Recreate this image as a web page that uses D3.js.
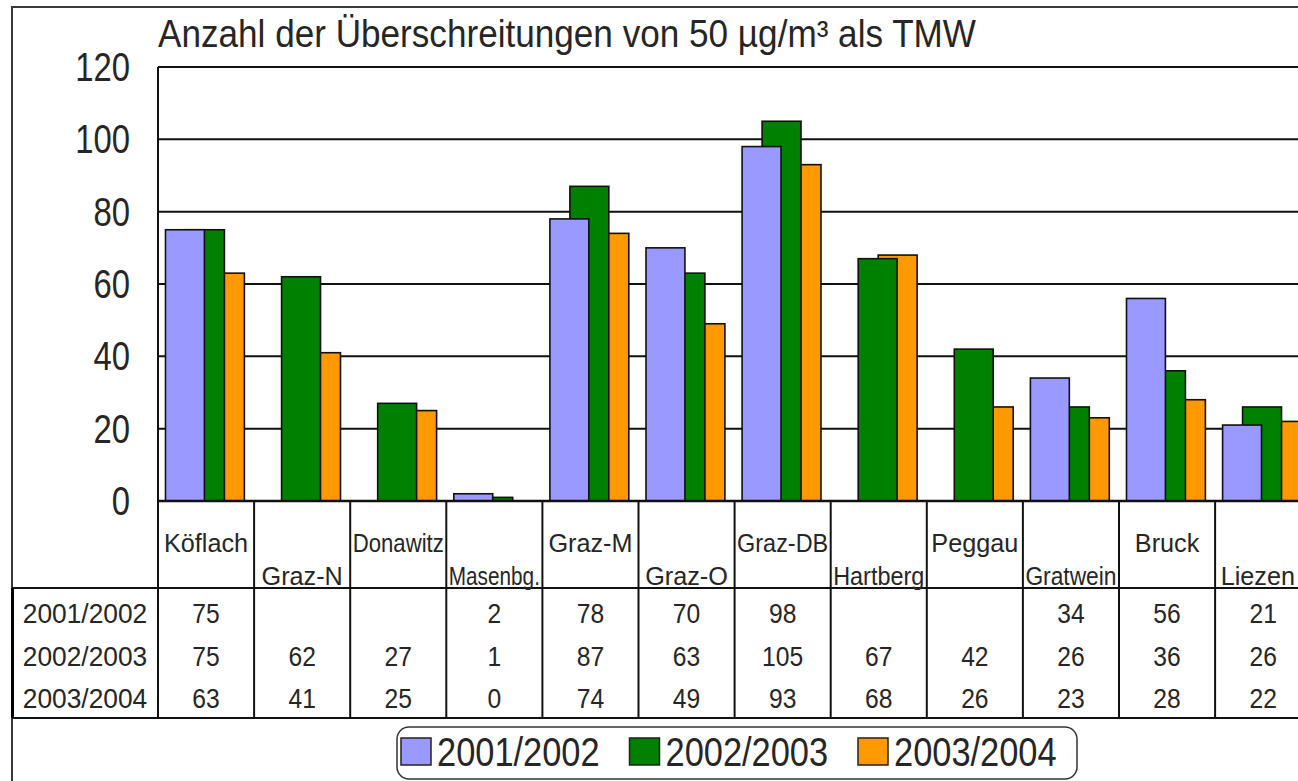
<!DOCTYPE html>
<html>
<head>
<meta charset="utf-8">
<script src="https://cdn.jsdelivr.net/npm/d3@7"></script>
<style>
  body { margin: 0; background: #fff; }
  text { font-family: "Liberation Sans", Arial, sans-serif; fill: #262626; }
</style>
</head>
<body>
<div id="chart"></div>
<script>
const categories = ["Köflach", "Graz-N", "Donawitz", "Masenbg.", "Graz-M", "Graz-O", "Graz-DB", "Hartberg", "Peggau", "Gratwein", "Bruck", "Liezen"];
const seriesNames = ["2001/2002", "2002/2003", "2003/2004"];
const values0102 = [75, null, null, 2, 78, 70, 98, null, null, 34, 56, 21];
const values0203 = [75, 62, 27, 1, 87, 63, 105, 67, 42, 26, 36, 26];
const values0304 = [63, 41, 25, 0, 74, 49, 93, 68, 26, 23, 28, 22];
const yTicks = [0, 20, 40, 60, 80, 100, 120];
const title = "Anzahl der Überschreitungen von 50 µg/m³ als TMW";

const seriesValues = [values0102, values0203, values0304];
const colors = ["#9999ff", "#008000", "#ff9900"];

const width = 1298, height = 781;
const plotLeft = 158, plotTop = 67, plotBottom = 501;
const bandW = 96.1;
const headerBottom = 588, tableBottom = 718;
const rowBase = [623, 665.5, 708];

const svg = d3.select('#chart').append('svg')
    .attr('width', width)
    .attr('height', height);

const x = d3.scaleBand()
    .domain(categories)
    .range([plotLeft, plotLeft + categories.length * bandW]);

const y = d3.scaleLinear()
    .domain([0, 120])
    .range([plotBottom, plotTop]);

// squeeze text horizontally, the original glyphs look narrow
function squeeze(sel, sx, maxW) {
    sel.each(function () {
        let w = this.getComputedTextLength() * sx;
        if (maxW && w > maxW) w = maxW;
        this.setAttribute('textLength', w);
        this.setAttribute('lengthAdjust', 'spacingAndGlyphs');
    });
}

// outer frame
svg.append('rect')
    .attr('x', 12).attr('y', 7)
    .attr('width', 1400).attr('height', 900)
    .attr('fill', 'none')
    .attr('stroke', '#3a3a3a')
    .attr('stroke-width', 2);

// title
svg.append('text')
    .attr('x', plotLeft)
    .attr('y', 47)
    .attr('font-size', 38)
    .attr('textLength', 818)
    .attr('lengthAdjust', 'spacingAndGlyphs')
    .text(title);

// gridlines
svg.append('g').selectAll('line').data(yTicks)
    .join('line')
    .attr('x1', plotLeft)
    .attr('x2', width + 20)
    .attr('y1', d => y(d))
    .attr('y2', d => y(d))
    .attr('stroke', '#111')
    .attr('stroke-width', 2);

// y labels
const yl = svg.append('g').selectAll('text').data(yTicks)
    .join('text')
    .attr('x', 130)
    .attr('y', d => y(d) + 14)
    .attr('text-anchor', 'end')
    .attr('font-size', 40)
    .attr('fill', '#333')
    .text(d => d);
squeeze(yl, 0.82);

// bars, last series drawn first so the first one sits in front
const barW = bandW * 0.405, barStep = bandW * 0.208, barOff = bandW * 0.078;
for (let k = seriesValues.length - 1; k >= 0; k--) {
    const data = categories.map((c, i) => ({ c, v: seriesValues[k][i] }))
        .filter(d => d.v !== null && d.v > 0);
    svg.append('g').selectAll('rect').data(data)
        .join('rect')
        .attr('x', d => x(d.c) + barOff + k * barStep)
        .attr('y', d => y(d.v))
        .attr('width', barW)
        .attr('height', d => plotBottom - y(d.v))
        .attr('fill', colors[k])
        .attr('stroke', '#111')
        .attr('stroke-width', 1.6);
}

// axis line along zero
svg.append('line')
    .attr('x1', plotLeft).attr('x2', width + 20)
    .attr('y1', plotBottom).attr('y2', plotBottom)
    .attr('stroke', '#111')
    .attr('stroke-width', 2.5);

// data table lines
const bounds = categories.map(c => x(c)).concat([x.range()[1]]);
svg.append('g').selectAll('line').data(bounds)
    .join('line')
    .attr('x1', d => d).attr('x2', d => d)
    .attr('y1', (d, i) => i === 0 ? plotTop : plotBottom)
    .attr('y2', tableBottom)
    .attr('stroke', '#111')
    .attr('stroke-width', 2);

svg.append('g').selectAll('line').data([headerBottom, tableBottom])
    .join('line')
    .attr('x1', 12).attr('x2', width + 20)
    .attr('y1', d => d).attr('y2', d => d)
    .attr('stroke', '#111')
    .attr('stroke-width', 2);

svg.append('line')
    .attr('x1', 12.5).attr('x2', 12.5)
    .attr('y1', headerBottom).attr('y2', tableBottom)
    .attr('stroke', '#000')
    .attr('stroke-width', 3);

// category labels, alternating top / bottom of the header row
const cl = svg.append('g').selectAll('text').data(categories)
    .join('text')
    .attr('x', d => x(d) + bandW / 2)
    .attr('y', (d, i) => i % 2 === 0 ? 552 : 585)
    .attr('text-anchor', 'middle')
    .attr('font-size', 26)
    .text(d => d);
squeeze(cl, 0.97, bandW - 5);
// keep the last label inside the page
cl.each(function () {
    const w = +this.getAttribute('textLength');
    const cx = +this.getAttribute('x');
    if (cx + w / 2 > width - 3) this.setAttribute('x', width - 3 - w / 2);
});

// row labels
const rl = svg.append('g').selectAll('text').data(seriesNames)
    .join('text')
    .attr('x', 85)
    .attr('y', (d, i) => rowBase[i])
    .attr('text-anchor', 'middle')
    .attr('font-size', 28)
    .text(d => d);
squeeze(rl, 0.94);

// table values
seriesValues.forEach((vals, k) => {
    const cells = categories.map((c, i) => ({ c, v: vals[i] })).filter(d => d.v !== null);
    const tv = svg.append('g').selectAll('text').data(cells)
        .join('text')
        .attr('x', d => x(d.c) + bandW / 2)
        .attr('y', rowBase[k])
        .attr('text-anchor', 'middle')
        .attr('font-size', 28)
        .text(d => d.v);
    squeeze(tv, 0.88);
});

// legend
svg.append('rect')
    .attr('x', 397).attr('y', 727)
    .attr('width', 680).attr('height', 52)
    .attr('rx', 12)
    .attr('fill', '#fff')
    .attr('stroke', '#333')
    .attr('stroke-width', 1.5);

const legend = svg.append('g').selectAll('g').data(seriesNames)
    .join('g')
    .attr('transform', (d, i) => `translate(${401 + i * 228.5},0)`);

legend.append('rect')
    .attr('x', 0).attr('y', 738)
    .attr('width', 30).attr('height', 27)
    .attr('fill', (d, i) => colors[i])
    .attr('stroke', '#222')
    .attr('stroke-width', 1.5);

const lt = legend.append('text')
    .attr('x', 36)
    .attr('y', 766)
    .attr('font-size', 40)
    .text(d => d);
squeeze(lt, 0.86);
</script>
</body>
</html>
